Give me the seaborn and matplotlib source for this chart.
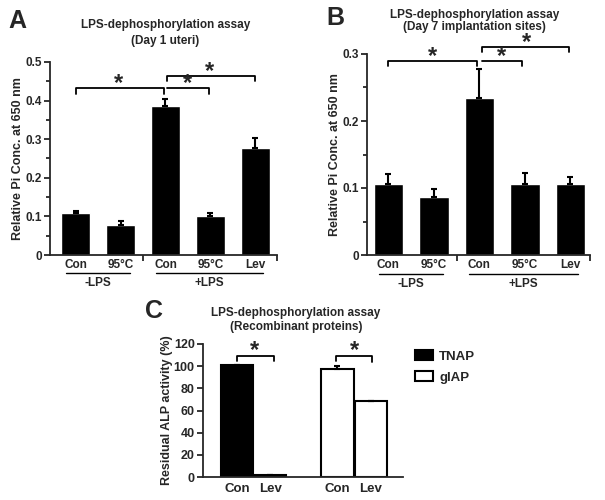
# LPS-dephosphorylation assay: three panel bar chart (A, B, C)
import numpy as np
import pandas as pd
import seaborn as sns
import matplotlib.pyplot as plt
import matplotlib.transforms as mtransforms
from matplotlib.ticker import MultipleLocator, FuncFormatter

# --- Data ---
conditions = ['-LPS Con', '-LPS 95C', '+LPS Con', '+LPS 95C', '+LPS Lev']
cond_labels = ['Con', '95°C', 'Con', '95°C', 'Lev']

day1_mean = [0.110, 0.077, 0.386, 0.102, 0.276]
day1_sem = [0.003, 0.010, 0.019, 0.006, 0.026]

day7_mean = [0.106, 0.086, 0.235, 0.106, 0.106]
day7_sem = [0.015, 0.013, 0.042, 0.016, 0.010]

rec_keys = ['TNAP Con', 'TNAP Lev', 'gIAP Con', 'gIAP Lev']
rec_enzyme = ['TNAP', 'TNAP', 'gIAP', 'gIAP']
rec_labels = ['Con', 'Lev', 'Con', 'Lev']
rec_mean = [101.0, 1.5, 97.4, 68.3]
rec_sem = [0.5, 0.6, 3.0, 0.0]

# --- Style ---
sns.set_style("ticks")
plt.rcParams['font.family'] = ['Liberation Sans', 'DejaVu Sans']
plt.rcParams['font.weight'] = 'bold'
plt.rcParams['axes.linewidth'] = 1.3

fig = plt.figure(figsize=(6.05, 5.0), dpi=100)
axA = fig.add_axes([0.0826, 0.49, 0.3752, 0.386])
axB = fig.add_axes([0.6066, 0.49, 0.3686, 0.402])
axC = fig.add_axes([0.3355, 0.046, 0.3306, 0.266])


def fmt_tick(v, pos):
    return '0' if abs(v) < 1e-9 else f'{v:.1f}'


def bracket(ax, x1, x2, y, drop1, drop2, star_x, star_size=17):
    ax.plot([x1, x1, x2, x2], [y - drop1, y, y, y - drop2],
            color='black', lw=1.3, clip_on=False)
    # asterisk sits just above the bracket line
    ax.annotate('*', xy=(star_x, y), xytext=(0, -1.2), textcoords='offset points',
                ha='center', va='baseline', fontsize=star_size,
                fontweight='bold', annotation_clip=False)


def lps_panel(ax, means, sems, ymax, xlim, ylabel):
    df = pd.DataFrame({'condition': conditions, 'value': means})
    sns.barplot(data=df, x='condition', y='value', order=conditions,
                color='black', saturation=1, width=0.65, errorbar=None, ax=ax)
    ax.errorbar(np.arange(5), means, yerr=[np.zeros(5), sems], fmt='none',
                ecolor='black', elinewidth=1.5, capsize=2.5, capthick=1.5)
    sns.despine(ax=ax)
    ax.set_ylim(0, ymax)
    ax.set_xlim(*xlim)
    ax.yaxis.set_major_locator(MultipleLocator(0.1))
    ax.yaxis.set_minor_locator(MultipleLocator(0.05))
    ax.yaxis.set_major_formatter(FuncFormatter(fmt_tick))
    ax.tick_params(axis='y', which='major', length=4, width=1.3, labelsize=8.5, pad=2)
    ax.tick_params(axis='y', which='minor', length=3, width=1.3)
    ax.set_xticks(range(5))
    ax.set_xticklabels(cond_labels, fontsize=8.5, fontweight='bold')
    ax.set_xticks([1.5, xlim[1]], minor=True)
    ax.tick_params(axis='x', which='major', length=0, pad=3)
    ax.tick_params(axis='x', which='minor', length=4, width=1.3)
    ax.set_xlabel('')
    ax.set_ylabel(ylabel, fontsize=9, fontweight='bold', labelpad=0.5)

    # treatment group lines under the tick labels
    trans = mtransforms.blended_transform_factory(ax.transData, ax.transAxes)
    for x0, x1, name in [(-0.21, 1.2, '-LPS'), (1.78, 4.16, '+LPS')]:
        ax.plot([x0, x1], [-0.095, -0.095], transform=trans, color='black',
                lw=1.0, clip_on=False)
        ax.text((x0 + x1) / 2, -0.145, name, transform=trans, ha='center',
                va='center', fontsize=8.5, fontweight='bold')


# Panel A
lps_panel(axA, day1_mean, day1_sem, 0.5, (-0.57, 4.48), 'Relative Pi Conc. at 650 nm')
bracket(axA, 0, 1.97, 0.433, 0.016, 0.016, 0.95)
bracket(axA, 2.03, 2.96, 0.433, 0.0, 0.016, 2.5)
bracket(axA, 2.03, 4.0, 0.464, 0.013, 0.013, 2.97)

# Panel B
lps_panel(axB, day7_mean, day7_sem, 0.3, (-0.47, 4.43), 'Relative Pi Conc. at 650 nm')
bracket(axB, 0, 1.95, 0.2896, 0.0075, 0.0075, 0.98)
bracket(axB, 2.05, 2.93, 0.2896, 0.0, 0.0075, 2.49)
bracket(axB, 2.05, 3.97, 0.3104, 0.0075, 0.0075, 3.04)

# Panel C
order_c = ['TNAP Con', 'TNAP Lev', 'gap', 'gIAP Con', 'gIAP Lev']
dfC = pd.DataFrame({'key': rec_keys, 'enzyme': rec_enzyme, 'value': rec_mean})
sns.barplot(data=dfC, x='key', y='value', hue='enzyme', order=order_c,
            hue_order=['TNAP', 'gIAP'], palette={'TNAP': 'black', 'gIAP': 'white'},
            dodge=False, saturation=1, width=0.96, errorbar=None,
            edgecolor='black', linewidth=1.5, ax=axC)
pos_c = [0, 1, 3, 4]
axC.errorbar(pos_c, rec_mean, yerr=[np.zeros(4), rec_sem], fmt='none',
             ecolor='black', elinewidth=1.5, capsize=2.5, capthick=1.5)
sns.despine(ax=axC)
axC.set_ylim(0, 120)
axC.set_xlim(-1.01, 4.955)
axC.yaxis.set_major_locator(MultipleLocator(20))
axC.tick_params(axis='y', length=4, width=1.3, labelsize=9, pad=2)
axC.set_xticks(pos_c)
axC.set_xticklabels(rec_labels, fontsize=9.5, fontweight='bold')
axC.tick_params(axis='x', length=0, pad=4)
axC.set_xlabel('')
axC.set_ylabel('Residual ALP activity (%)', fontsize=9, fontweight='bold', labelpad=0.5)
bracket(axC, 0, 1.1, 109.4, 5.0, 5.0, 0.54)
bracket(axC, 2.96, 4.03, 109.4, 5.0, 6.0, 3.52)

handles, labels = axC.get_legend_handles_labels()
axC.get_legend().remove()
fig.legend(handles, labels, loc='upper left', bbox_to_anchor=(0.667, 0.324),
           frameon=False, handlelength=1.3, handleheight=0.8, handletextpad=0.5,
           labelspacing=0.65, prop={'weight': 'bold', 'size': 9.5})

# Titles and panel letters
fig.text(0.273, 0.95, 'LPS-dephosphorylation assay', ha='center', va='center',
         fontsize=8.5, fontweight='bold')
fig.text(0.273, 0.918, '(Day 1 uteri)', ha='center', va='center',
         fontsize=8.5, fontweight='bold')
fig.text(0.785, 0.97, 'LPS-dephosphorylation assay', ha='center', va='center',
         fontsize=8.5, fontweight='bold')
fig.text(0.785, 0.946, '(Day 7 implantation sites)', ha='center', va='center',
         fontsize=8.5, fontweight='bold')
fig.text(0.489, 0.374, 'LPS-dephosphorylation assay', ha='center', va='center',
         fontsize=8.5, fontweight='bold')
fig.text(0.489, 0.346, '(Recombinant proteins)', ha='center', va='center',
         fontsize=8.5, fontweight='bold')

fig.text(0.029, 0.958, 'A', ha='center', va='center', fontsize=18, fontweight='bold')
fig.text(0.555, 0.964, 'B', ha='center', va='center', fontsize=18, fontweight='bold')
fig.text(0.255, 0.378, 'C', ha='center', va='center', fontsize=18, fontweight='bold')

fig.savefig('out.png', dpi=100)
